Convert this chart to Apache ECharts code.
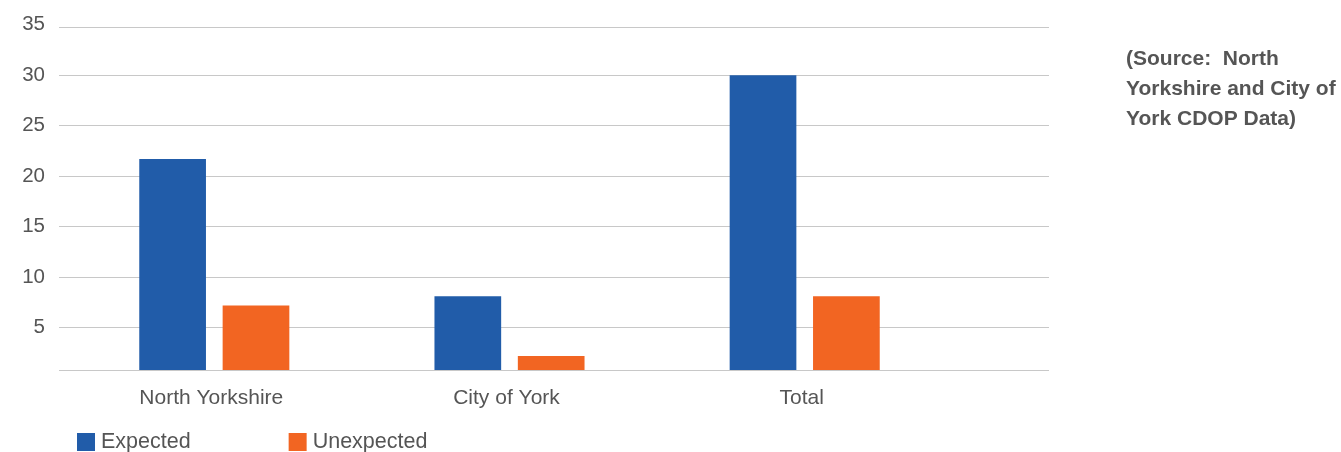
<!DOCTYPE html>
<html>
<head>
<meta charset="utf-8">
<script src="https://cdn.jsdelivr.net/npm/echarts@6/dist/echarts.min.js"></script>
<style>
html,body{margin:0;padding:0;background:#fff;}
#chart{width:1341px;height:452px;}
</style>
</head>
<body>
<div id="chart"></div>
<script>
const categories = ['North Yorkshire', 'City of York', 'Total'];
const expected = [21.7, 8.1, 30];
const unexpected = [7.2, 2.2, 8.1];
const seriesNames = ['Expected', 'Unexpected'];
const sourceNote = '(Source:  North\nYorkshire and City of\nYork CDOP Data)';
const axisBase = 0.78;
const axisTop = 34.7;

const FONT = '"Liberation Sans", Arial, Helvetica, sans-serif';
const TEXT = '#555555';
const GRID = '#c8c8c8';

const chart = echarts.init(document.getElementById('chart'), null, {renderer: 'canvas'});
chart.setOption({
  animation: false,
  backgroundColor: '#ffffff',
  textStyle: {fontFamily: FONT},
  title: {
    text: sourceNote,
    left: 1126,
    top: 44,
    padding: 0,
    textStyle: {fontFamily: FONT, fontSize: 21, fontWeight: 'bold', color: TEXT, lineHeight: 30}
  },
  legend: {
    data: seriesNames,
    left: 77,
    top: 431,
    padding: 0,
    itemWidth: 18,
    itemHeight: 18,
    itemGap: 98,
    icon: 'rect',
    textStyle: {fontFamily: FONT, fontSize: 21.5, color: TEXT, padding: [6, 0, 0, 1]}
  },
  grid: [
    {left: 66.7, right: 388.7, top: 27.7, bottom: 81.7, containLabel: false},
    {left: 59, right: 292, top: 24.7, bottom: 73.8, containLabel: false}
  ],
  xAxis: [
    {
      type: 'category', gridIndex: 0, data: categories,
      axisLine: {show: false}, axisTick: {show: false},
      axisLabel: {fontFamily: FONT, fontSize: 21, color: TEXT, margin: 17, interval: 0, padding: [0, 6, 0, 0]}
    },
    {type: 'value', gridIndex: 1, min: 0, max: 1, show: false}
  ],
  yAxis: [
    {type: 'value', gridIndex: 0, min: axisBase, max: axisTop, show: false},
    {
      type: 'value', gridIndex: 1, min: 0, max: 35, interval: 5,
      axisLine: {show: false}, axisTick: {show: false},
      axisLabel: {fontFamily: FONT, fontSize: 20.5, color: TEXT, margin: 14, showMinLabel: false, showMaxLabel: true},
      splitLine: {show: true, showMinLine: false, showMaxLine: false, lineStyle: {color: GRID, width: 1.2}}
    }
  ],
  series: [
    {
      name: seriesNames[0], type: 'bar', xAxisIndex: 0, yAxisIndex: 0,
      data: expected, barWidth: 66.7, barGap: '25%', clip: true,
      itemStyle: {color: '#215CA9'}, z: 3
    },
    {
      name: seriesNames[1], type: 'bar', xAxisIndex: 0, yAxisIndex: 0,
      data: unexpected, barWidth: 66.7, barGap: '25%', clip: true,
      itemStyle: {color: '#F26522'}, z: 3
    },
    {
      name: 'frame', type: 'line', xAxisIndex: 1, yAxisIndex: 1, data: [],
      silent: true, z: 1,
      markLine: {
        silent: true, symbol: 'none', label: {show: false},
        lineStyle: {color: GRID, width: 1.2, type: 'solid'},
        data: [{yAxis: axisBase}, {yAxis: axisTop}]
      }
    }
  ]
});
</script>
</body>
</html>
